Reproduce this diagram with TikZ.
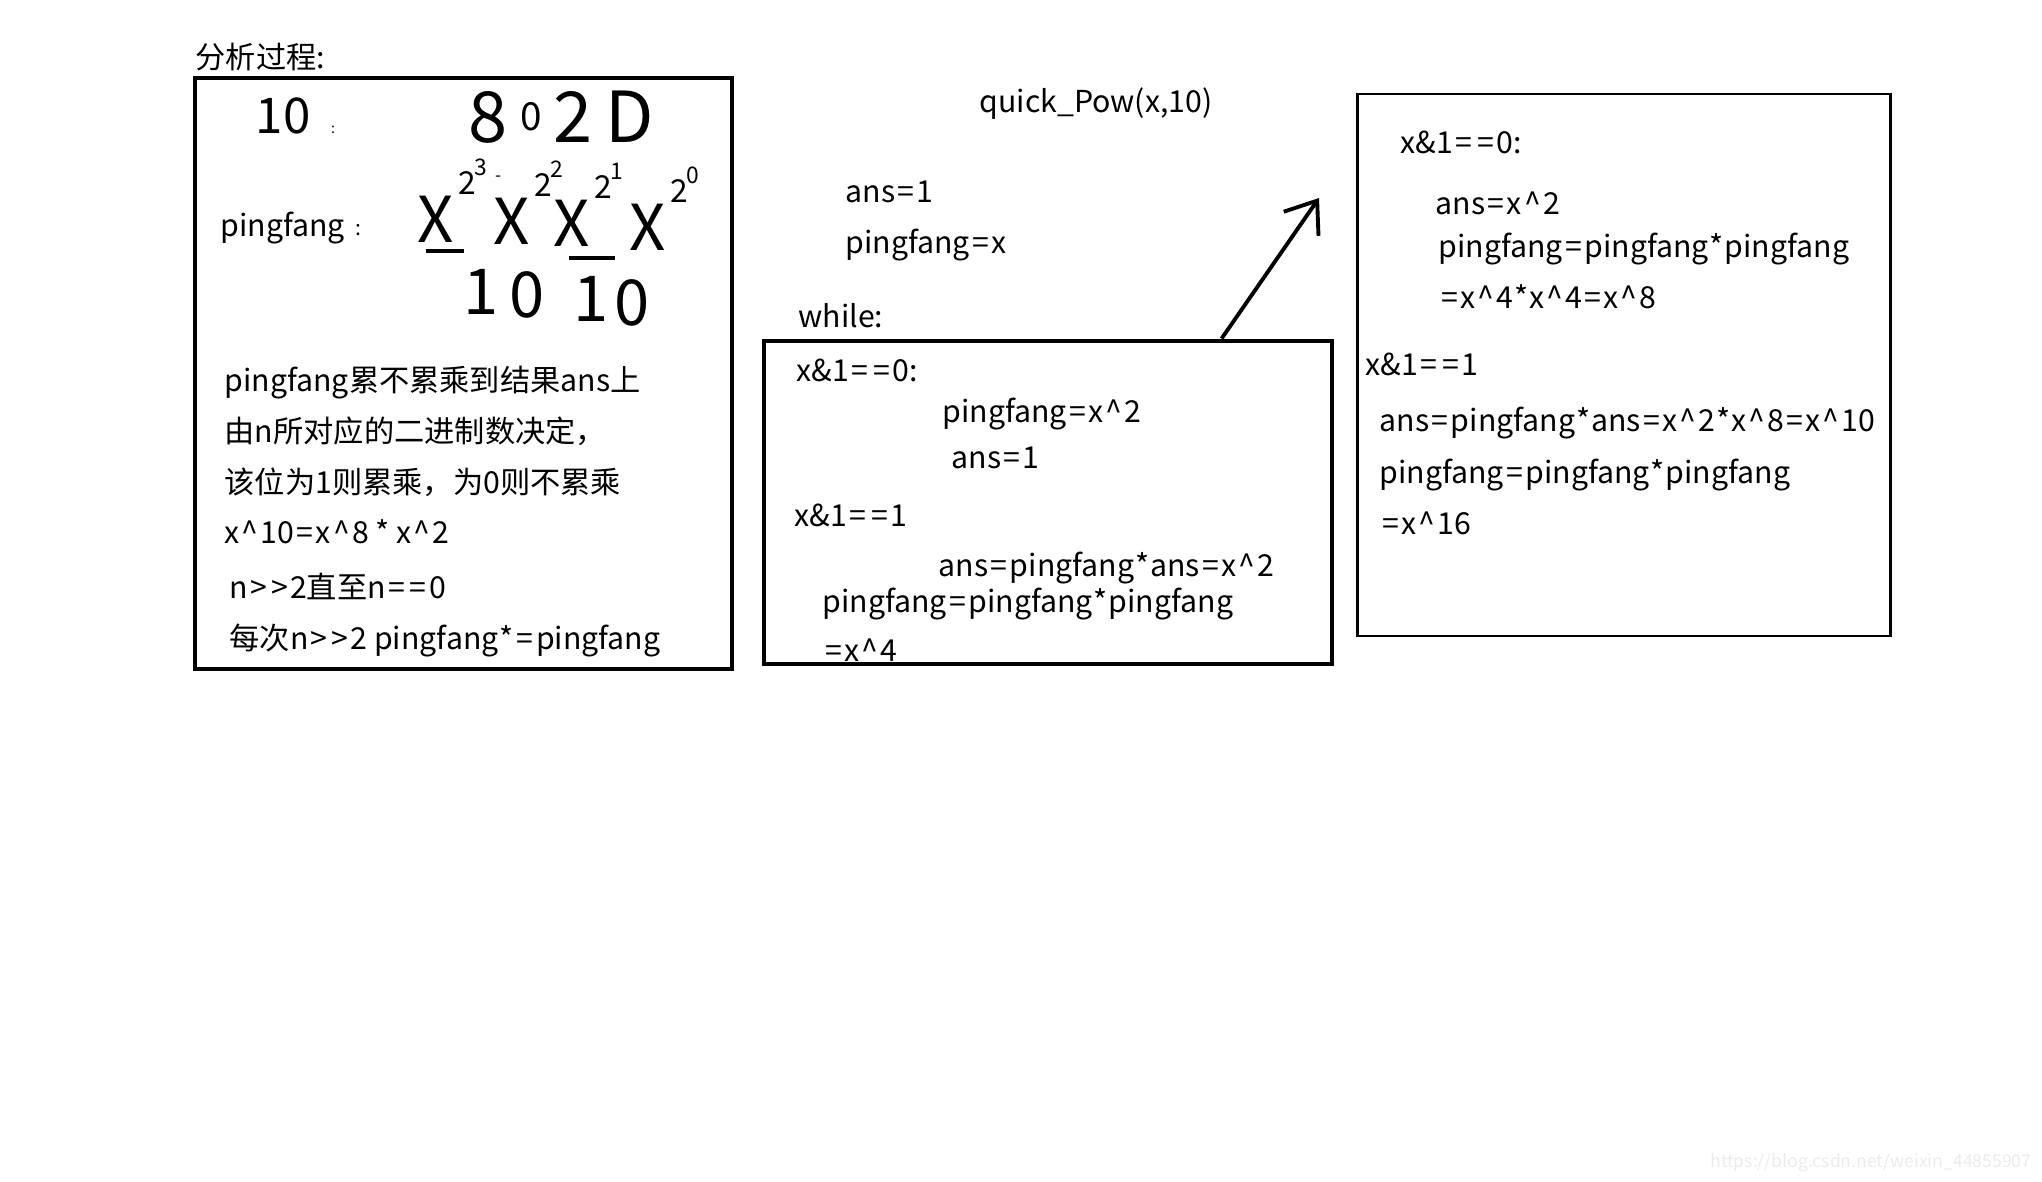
\documentclass[tikz,border=0pt]{standalone}
\usepackage{fontspec}
\setmainfont{Noto Sans CJK SC}
\usetikzlibrary{fit,calc,arrows.meta}

\newcommand{\crt}{\kern.07em\textasciicircum\kern.07em}
\newcommand{\eqs}{\kern.08em=\kern.08em}
\newcommand{\gts}{\kern.07em>\kern.07em}
\newcommand{\mul}{\kern.03em*\kern.03em}

\begin{document}
\begin{tikzpicture}
  [x=0.01cm, y=-0.01cm,
     txt/.style={anchor=west,
                 inner sep=0pt,
                 yshift=-0.8pt,
                 text height=0.75em,
                 text depth=0.2em,
                 font=\fontsize{8.6pt}{10pt}\selectfont},
     hand/.style={inner sep=0pt,
                  font=\fontsize{#1}{#1}\selectfont},
     box/.style={draw,
                 line width=1.4pt,
                 inner sep=0pt},
     thinbox/.style={box,
                 line width=0.85pt},
     arr/.style={line width=1.1pt,
                 -{Straight Barb[length=8pt,width=12pt,line width=1.1pt]}}
  ]
    \useasboundingbox (0,0) rectangle (2042,1182);

    % the three boxes
    \node[box, fit={(195,78) (732,669)}] (lbox) {};
    \node[box, fit={(764,341) (1332,664)}] (mbox) {};
    \node[thinbox, fit={(1357,94) (1890,636)}] (rbox) {};

    \node[txt, anchor=west] (title) at (195,56) {分析过程:};

    % handwritten part
    \node[hand=14pt] (ten) at (283,116) {10};
    \node[hand=4pt] (dots1) at (333,130) {:};
    \foreach \d/\s/\px in {1/20pt/488, 2/11pt/531, 3/20pt/573, 4/20pt/630}{%
        \ifnum\d=1 \def\dig{8}\fi
        \ifnum\d=2 \def\dig{0}\fi
        \ifnum\d=3 \def\dig{2}\fi
        \ifnum\d=4 \def\dig{D}\fi
        \node[hand=\s] (oct\d) at (\px,117) {\dig};
    }
    \node[txt] (pf) at (220,224) {pingfang};
    \node[hand=6pt] (dots2) at (358,230) {:};
    \foreach \i/\px/\py/\ex in {1/436/219/3, 2/512/221/2, 3/572/223/1, 4/648/227/0}{%
        \node[hand=18pt] (x\i) at (\px,\py) {X};
        \node[hand=9pt] (b\i) at ([shift={(31,-36)}]x\i.center) {2};
        \node[hand=6.5pt] (e\i) at ([shift={(45,-52)}]x\i.center) {\ex};
    }
    \node[hand=5pt] (dash) at (499,179) {-};
    \draw[line width=1.1pt] ([shift={(-10,32)}]x1.center) coordinate (u1a) -- ([shift={(28,32)}]x1.center) coordinate (u1b);
    \draw[line width=1.1pt] ([shift={(-3,35)}]x3.center) coordinate (u3a) -- ([shift={(43,35)}]x3.center) coordinate (u3b);
    \foreach \d/\px/\py in {1/481/292, 0/527/295, 1/591/299, 0/632/303}{%
        \node[hand=18pt] (bin\px) at (\px,\py) {\d};
    }

    % explanation
    \node[txt] (l1) at (224,379) {pingfang累不累乘到结果ans上};
    \node[txt] (l2) at (224,430) {由n所对应的二进制数决定，};
    \node[txt] (l3) at (224,481) {该位为1则累乘，为0则不累乘};
    \node[txt] (l4) at (224,531) {x\crt10\eqs x\crt8 * x\crt2};
    \node[txt] (l5) at (229,586) {n\gts\gts2直至n\eqs\eqs0};
    \node[txt] (l6) at (229,637) {每次n\gts\gts2 pingfang\mul\eqs pingfang};

    % middle
    \node[txt] (qp) at (979,100) {quick\_Pow(x,10)};
    \node[txt] (m1) at (845,190) {ans\eqs1};
    \node[txt] (m2) at (845,241) {pingfang\eqs x};
    \node[txt] (wh) at (798,315) {while:};
    \node[txt] (m3) at (796,369) {x\&1\eqs\eqs0:};
    \node[txt] (m4) at (942,410) {pingfang\eqs x\crt2};
    \node[txt] (m5) at (951,456) {ans\eqs1};
    \node[txt] (m6) at (794,514) {x\&1\eqs\eqs1};
    \node[txt] (m7) at (938,564) {ans\eqs pingfang\mul ans\eqs x\crt2};
    \node[txt] (m8) at (822,600) {pingfang\eqs pingfang\mul pingfang};
    \node[txt] (m9) at (822,649) {\eqs x\crt4};

    % right
    \node[txt] (r1) at (1400,141) {x\&1\eqs\eqs0:};
    \node[txt] (r2) at (1435,202) {ans\eqs x\crt2};
    \node[txt] (r3) at (1438,245) {pingfang\eqs pingfang\mul pingfang};
    \node[txt] (r4) at (1438,296) {\eqs x\crt4\mul x\crt4\eqs x\crt8};
    \node[txt] (r5) at (1365,363) {x\&1\eqs\eqs1};
    \node[txt] (r6) at (1379,419) {ans\eqs pingfang\mul ans\eqs x\crt2\mul x\crt8\eqs x\crt10};
    \node[txt] (r7) at (1379,471) {pingfang\eqs pingfang\mul pingfang};
    \node[txt] (r8) at (1379,522) {\eqs x\crt16};

    \coordinate (arrtip) at (1319,198);
    \draw[arr] ($(mbox.north west)!0.803!(mbox.north east)$) -- (arrtip);

    \node[anchor=east, inner sep=0pt, text=black!8,
          font=\fontsize{5pt}{6pt}\selectfont] (wm) at (2032,1163) {https://blog.csdn.net/weixin\_44855907};
\end{tikzpicture}
\end{document}
